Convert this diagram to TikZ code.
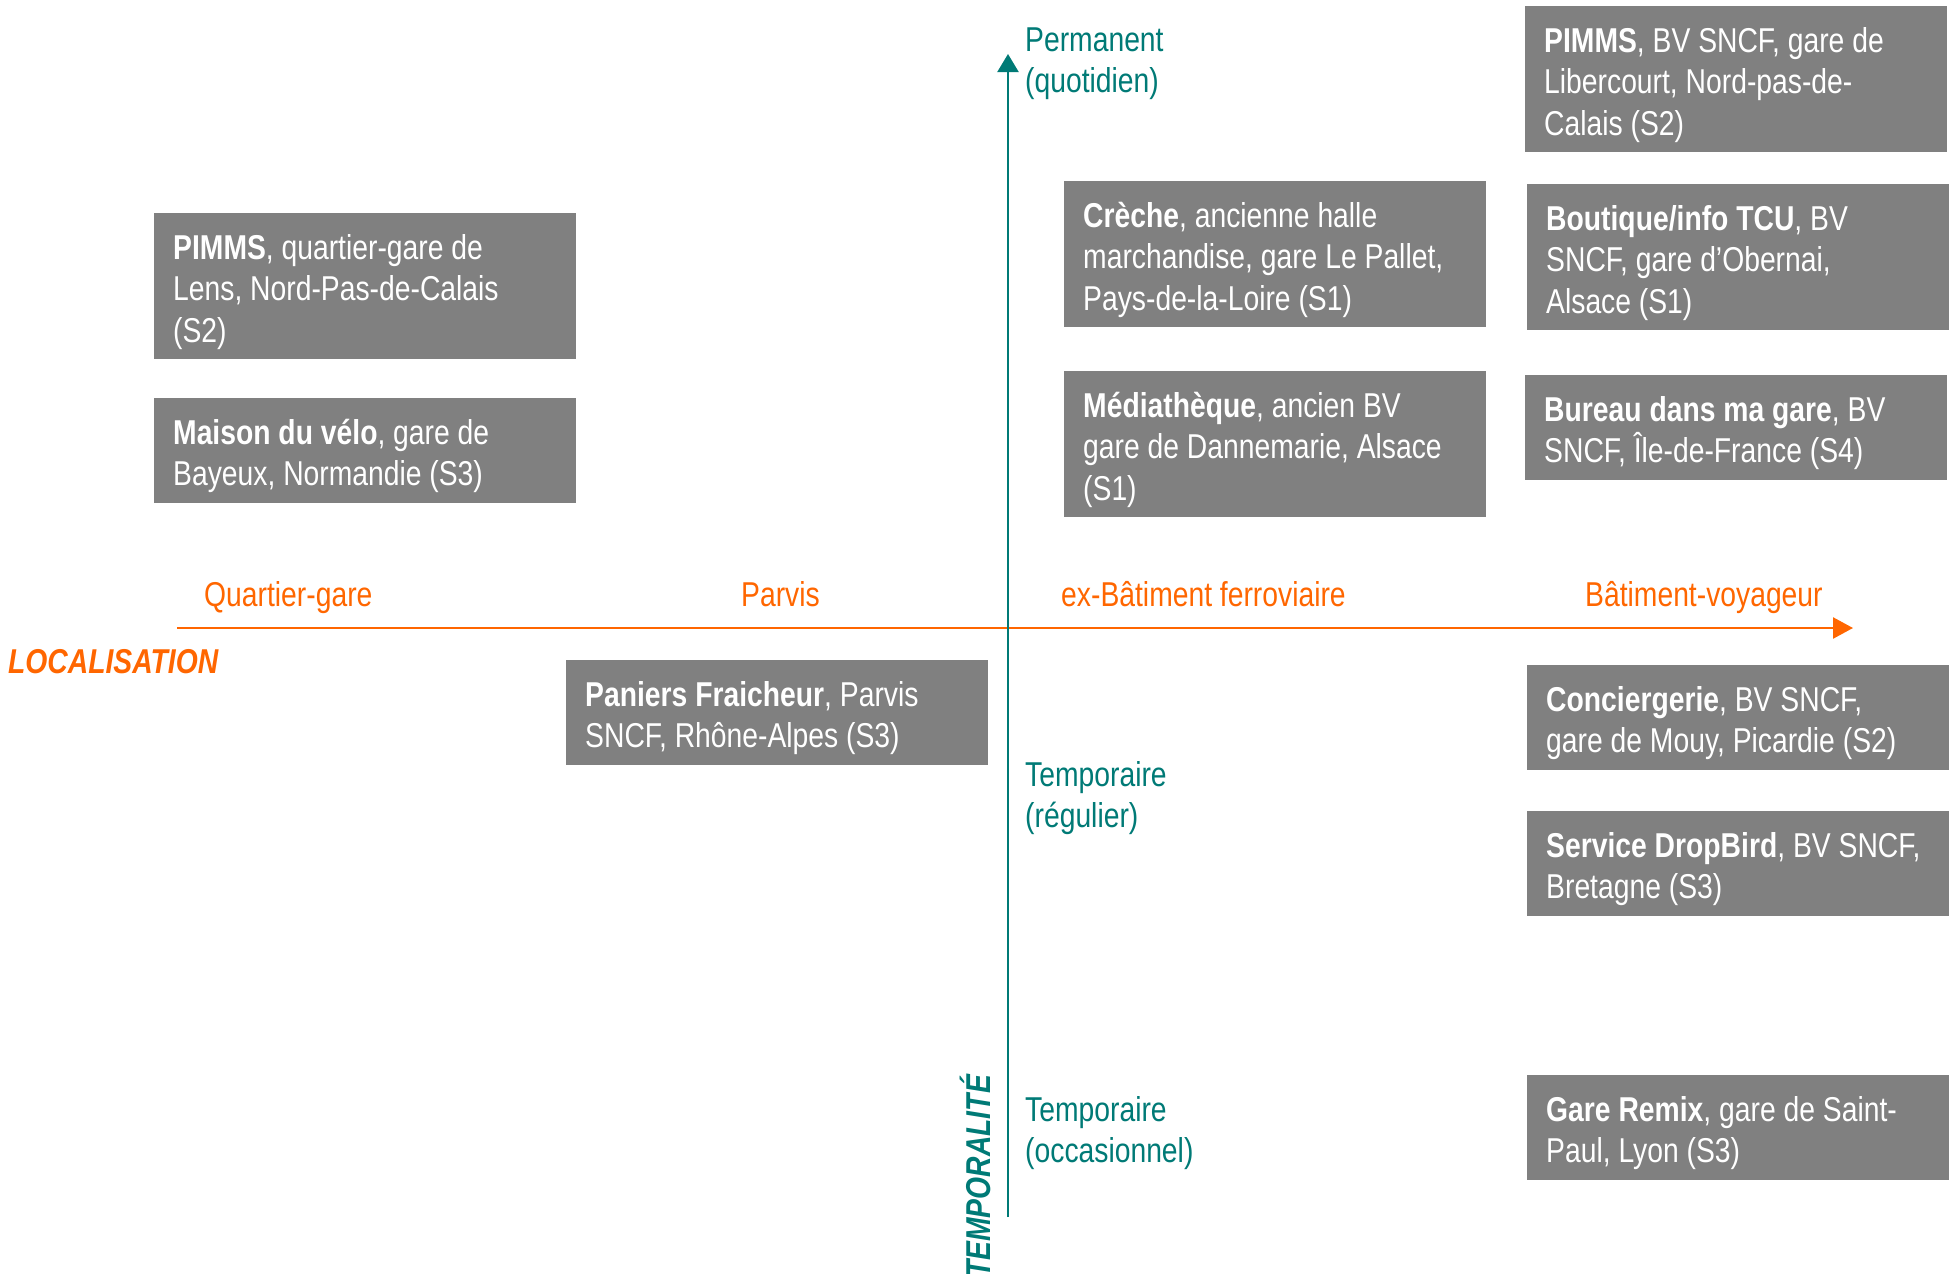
\documentclass[tikz,border=0pt]{standalone}
\usepackage{fontspec}
\setmainfont{Liberation Sans}[FakeStretch=0.82]
\usetikzlibrary{arrows.meta}
\definecolor{boxgray}{HTML}{808080}
\definecolor{tealc}{HTML}{007A76}
\definecolor{orangec}{HTML}{FF6600}
\newcommand{\diagfont}{\fontsize{34.5}{41.5}\selectfont}
\begin{document}
\begin{tikzpicture}[x=1pt,y=-1pt,
  card/.style={fill=boxgray, text=white, anchor=north west, inner xsep=19pt, inner ysep=0pt,
    text width=384pt, align=flush left, text height=46pt, font=\diagfont},
  twoline/.style={card, text depth=58.5pt},
  threeline/.style={card, text depth=100pt},
  olab/.style={text=orangec, anchor=base west, inner sep=0pt, font=\diagfont},
  tlab/.style={text=tealc, anchor=base west, inner sep=0pt, text width=220pt, align=flush left, font=\diagfont},
  axtitle/.style={anchor=base west, inner sep=0pt, font=\diagfont\bfseries\itshape}]
\useasboundingbox (0,0) rectangle (1955,1274);

% axes
\coordinate (hstart) at (177,628);
\coordinate (hend) at (1853,628);
\coordinate (vstart) at (1008,1217);
\coordinate (vend) at (1008,54);
\draw[orangec, line width=2.5pt, -{Triangle[length=20pt,width=21pt]}] (hstart) -- (hend);
\draw[tealc, line width=2.2pt, -{Triangle[length=18pt,width=21pt]}] (vstart) -- (vend);

% axis titles
\node[axtitle, text=orangec] (loc) at (8,673) {LOCALISATION};
\node[axtitle, text=tealc, rotate=90] (temp) at (990,1278) {TEMPORALITÉ};

% localisation labels
\node[olab] (qg) at (204,606) {Quartier-gare};
\node[olab] (pv) at (741,606) {Parvis};
\node[olab] (exb) at (1061,606) {ex-Bâtiment ferroviaire};
\node[olab] (bv) at (1585,606) {Bâtiment-voyageur};

% temporalite labels
\node[tlab] (perm) at (1025,51) {Permanent\\(quotidien)};
\node[tlab] (reg) at (1025,786) {Temporaire\\(régulier)};
\node[tlab] (occ) at (1025,1121) {Temporaire\\(occasionnel)};

% boxes
\node[threeline] (lens) at (154,213) {\textbf{PIMMS}, quartier-gare de\\Lens, Nord-Pas-de-Calais\\(S2)};
\node[twoline] (velo) at (154,398) {\textbf{Maison du vélo}, gare de\\Bayeux, Normandie (S3)};
\node[threeline] (creche) at (1064,181) {\textbf{Crèche}, ancienne halle\\marchandise, gare Le Pallet,\\Pays-de-la-Loire (S1)};
\node[threeline] (media) at (1064,371) {\textbf{Médiathèque}, ancien BV\\gare de Dannemarie, Alsace\\(S1)};
\node[threeline] (liber) at (1525,6) {\textbf{PIMMS}, BV SNCF, gare de\\Libercourt, Nord-pas-de-\\Calais (S2)};
\node[threeline] (bout) at (1527,184) {\textbf{Boutique/info TCU}, BV\\SNCF, gare d’Obernai,\\Alsace (S1)};
\node[twoline] (bureau) at (1525,375) {\textbf{Bureau dans ma gare}, BV\\SNCF, Île-de-France (S4)};
\node[twoline] (paniers) at (566,660) {\textbf{Paniers Fraicheur}, Parvis\\SNCF, Rhône-Alpes (S3)};
\node[twoline] (concierge) at (1527,665) {\textbf{Conciergerie}, BV SNCF,\\gare de Mouy, Picardie (S2)};
\node[twoline] (drop) at (1527,811) {\textbf{Service DropBird}, BV SNCF,\\Bretagne (S3)};
\node[twoline] (remix) at (1527,1075) {\textbf{Gare Remix}, gare de Saint-\\Paul, Lyon (S3)};
\end{tikzpicture}
\end{document}
